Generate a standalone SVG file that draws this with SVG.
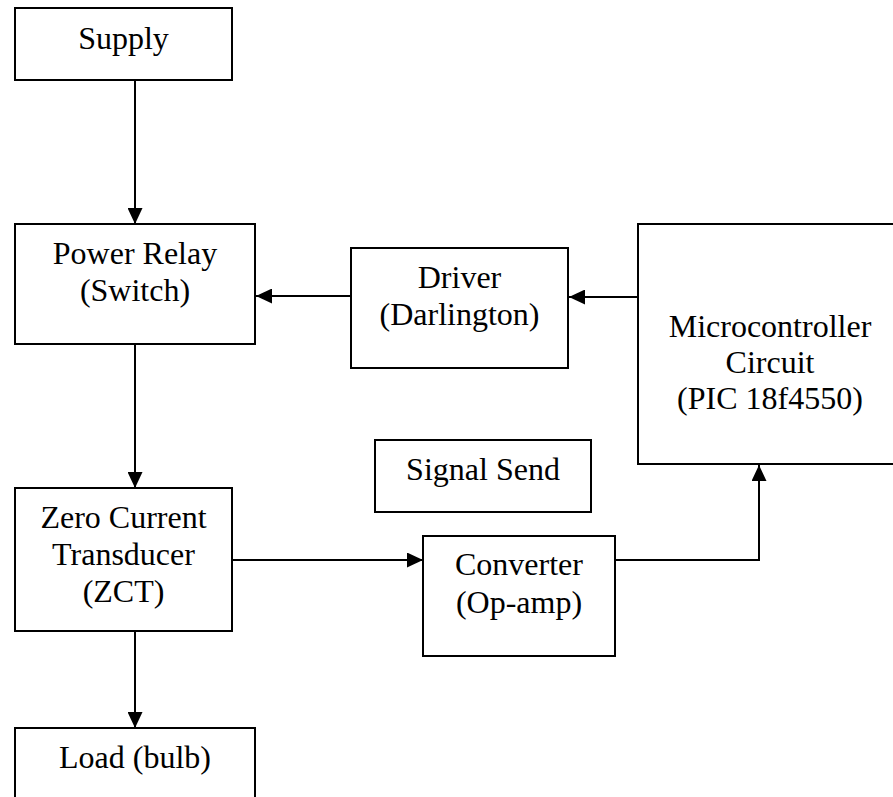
<svg xmlns="http://www.w3.org/2000/svg" width="893" height="797" viewBox="0 0 893 797">
<style>
.box{fill:#fff;stroke:#000;stroke-width:2}
.t{font-family:"Liberation Serif","Times New Roman",serif;font-size:32px;fill:#000;text-anchor:middle}
.c{fill:none;stroke:#000;stroke-width:2}
</style>
<defs>
<marker id="ah" markerUnits="userSpaceOnUse" markerWidth="16" markerHeight="15" refX="16" refY="7.5" orient="auto">
<path d="M0,0 L16,7.5 L0,15 z" fill="#000"/>
</marker>
</defs>
<rect width="893" height="797" fill="#fff"/>
<g id="connectors">
<line class="c" x1="135" y1="80" x2="135" y2="224" marker-end="url(#ah)"/>
<line class="c" x1="135" y1="344" x2="135" y2="488" marker-end="url(#ah)"/>
<line class="c" x1="135" y1="631" x2="135" y2="728" marker-end="url(#ah)"/>
<line class="c" x1="351" y1="296" x2="256" y2="296" marker-end="url(#ah)"/>
<line class="c" x1="638" y1="297" x2="569" y2="297" marker-end="url(#ah)"/>
<line class="c" x1="232" y1="560" x2="423" y2="560" marker-end="url(#ah)"/>
<polyline class="c" points="615,560 759,560 759,465" marker-end="url(#ah)"/>
</g>
<g id="supply">
<rect class="box" x="15" y="8" width="217" height="72"/>
<text class="t" x="123.5" y="49">Supply</text>
</g>
<g id="power-relay">
<rect class="box" x="15" y="224" width="240" height="120"/>
<text class="t" x="135" y="264">Power Relay</text>
<text class="t" x="135" y="301">(Switch)</text>
</g>
<g id="driver">
<rect class="box" x="351" y="248" width="217" height="120"/>
<text class="t" x="459.5" y="288">Driver</text>
<text class="t" x="459.5" y="325">(Darlington)</text>
</g>
<g id="microcontroller">
<rect class="box" x="638" y="224" width="264" height="240"/>
<text class="t" x="770" y="337">Microcontroller</text>
<text class="t" x="770" y="373">Circuit</text>
<text class="t" x="770" y="409">(PIC 18f4550)</text>
</g>
<g id="signal-send">
<rect class="box" x="375" y="440" width="216" height="72"/>
<text class="t" x="483" y="480">Signal Send</text>
</g>
<g id="zct">
<rect class="box" x="15" y="488" width="217" height="143"/>
<text class="t" x="123.5" y="528">Zero Current</text>
<text class="t" x="123.5" y="565">Transducer</text>
<text class="t" x="123.5" y="602">(ZCT)</text>
</g>
<g id="converter">
<rect class="box" x="423" y="536" width="192" height="120"/>
<text class="t" x="519" y="575">Converter</text>
<text class="t" x="519" y="613">(Op-amp)</text>
</g>
<g id="load">
<rect class="box" x="15" y="728" width="240" height="120"/>
<text class="t" x="135" y="768">Load (bulb)</text>
</g>
</svg>
